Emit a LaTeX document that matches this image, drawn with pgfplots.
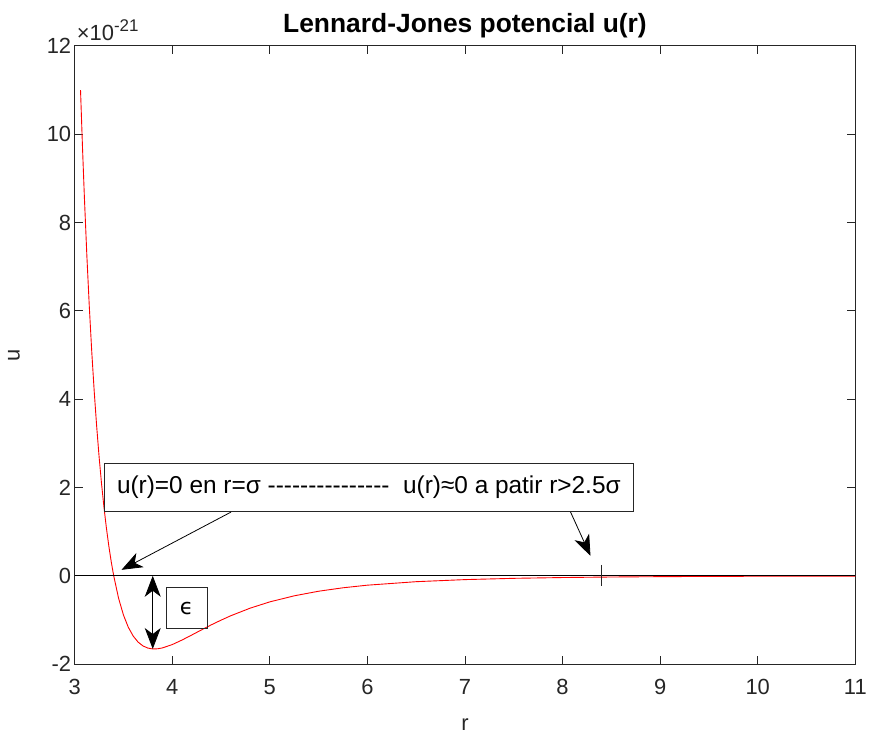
\documentclass[border=0pt]{standalone}
\usepackage{fontspec}
\setmainfont{Liberation Sans}
\newfontfamily\djv{DejaVu Sans}
\usepackage{pgfplots}
\pgfplotsset{compat=1.18}
\usetikzlibrary{arrows.meta}
\definecolor{axgray}{gray}{0.15}
\begin{document}
\begin{tikzpicture}
\begin{axis}[
  scale only axis, width=784pt, height=621pt,
  xmin=3, xmax=11, ymin=-2, ymax=12,
  xtick={3,4,...,11}, ytick={-2,0,2,4,6,8,10,12},
  tick align=inside, major tick length=8pt,
  axis line style={axgray, line width=0.8pt},
  tick style={axgray, line width=0.8pt},
  ticklabel style={font=\fontsize{22}{26}\selectfont, text=axgray},
  xticklabel style={yshift=-12pt},
  /pgf/number format/assume math mode=true,
  clip=false,
]
\addplot[red, line width=0.9pt] table {
x y
3.06 10.994
3.08 9.708
3.10 8.543
3.125 7.241
3.15 6.091
3.175 5.075
3.20 4.183
3.225 3.395
3.25 2.701
3.275 2.091
3.30 1.555
3.325 1.085
3.35 0.673
3.375 0.314
3.40 0
3.45 -0.509
3.50 -0.889
3.55 -1.167
3.60 -1.365
3.65 -1.501
3.70 -1.588
3.75 -1.636
3.80 -1.656
3.85 -1.652
3.90 -1.632
4.0 -1.557
4.1 -1.454
4.2 -1.340
4.3 -1.224
4.4 -1.110
4.5 -1.004
4.6 -0.904
4.8 -0.731
5.0 -0.590
5.25 -0.453
5.5 -0.349
5.75 -0.271
6.0 -0.212
6.5 -0.133
7.0 -0.086
7.5 -0.057
8.0 -0.039
8.5 -0.027
9.0 -0.019
9.5 -0.014
10.0 -0.010
10.5 -0.008
11.0 -0.006
};
\addplot[black, line width=0.9pt] coordinates {(3,0) (11,0)};
\addplot[axgray, line width=0.9pt] coordinates {(8.4,0.25) (8.4,-0.225)};
% text box
\draw[axgray, line width=0.8pt, fill=white] (axis cs:3.306,1.465) rectangle (axis cs:8.724,2.547);
\node[font=\fontsize{24.5}{28}\selectfont] at (axis cs:6.015,2.006) {u(r)=0 en r=σ -{}-{}-{}-{}-{}-{}-{}-{}-{}-{}-{}-{}-{}-{}-\ \ u(r)≈0 a patir r>2.5σ};
% arrows
\draw[black, line width=0.8pt, -{Stealth[length=21pt,width=16pt,inset=6pt]}] (axis cs:4.602,1.443) -- (axis cs:3.480,0.135);
\draw[black, line width=0.8pt, -{Stealth[length=21pt,width=16pt,inset=6pt]}] (axis cs:8.082,1.443) -- (axis cs:8.286,0.45);
\draw[black, line width=0.8pt, {Stealth[length=21pt,width=16pt,inset=6pt]}-{Stealth[length=21pt,width=16pt,inset=6pt]}] (axis cs:3.8,0) -- (axis cs:3.8,-1.656);
% epsilon box
\draw[axgray, line width=0.8pt] (axis cs:3.939,-0.27) rectangle (axis cs:4.357,-1.195);
\node[font=\djv\fontsize{22}{26}\selectfont] at (axis cs:4.148,-0.74) {ϵ};
\coordinate (T) at (rel axis cs:0.5,1);
\coordinate (NW) at (rel axis cs:0,1);
\coordinate (S) at (rel axis cs:0.5,0);
\coordinate (W) at (rel axis cs:0,0.5);
\coordinate (SW) at (rel axis cs:0,0);
\coordinate (NE) at (rel axis cs:1,1);
\end{axis}
\node[anchor=base, font=\fontsize{26.5}{30}\selectfont\bfseries] at ([yshift=13pt]T) {Lennard-Jones potencial u(r)};
\node[anchor=base west, font=\fontsize{22}{26}\selectfont, text=axgray, inner sep=0pt] at ([xshift=2pt,yshift=5pt]NW) {×10\raisebox{9pt}{\fontsize{17}{20}\selectfont -21}};
\node[anchor=base, font=\fontsize{22}{26}\selectfont, text=axgray] at ([yshift=-67pt]S) {r};
\node[rotate=90, font=\fontsize{22}{26}\selectfont, text=axgray] at ([xshift=-61pt]W) {u};
\path ([xshift=-75pt,yshift=-69pt]SW) rectangle ([xshift=11pt,yshift=46pt]NE);
\end{tikzpicture}
\end{document}
